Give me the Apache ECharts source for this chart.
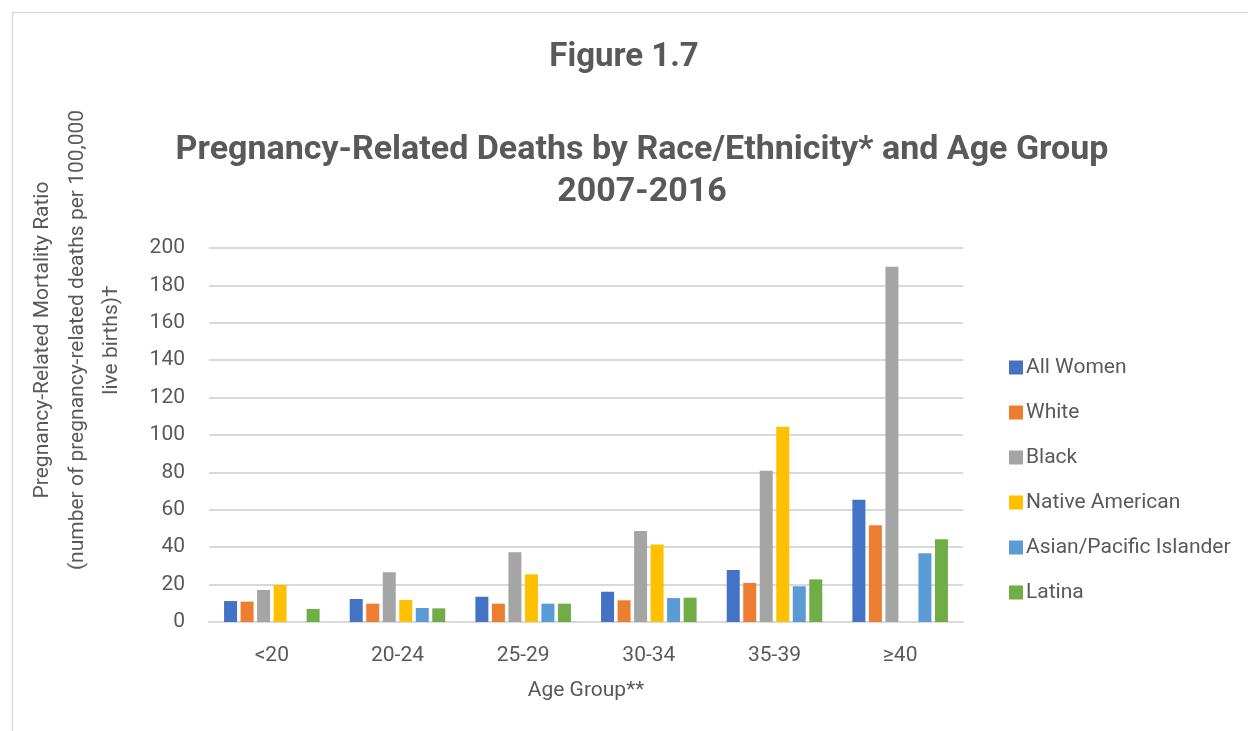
<!DOCTYPE html>
<html>
<head>
<meta charset="utf-8">
<script src="https://cdn.jsdelivr.net/npm/echarts@6/dist/echarts.min.js"></script>
<style>
  html, body { margin: 0; padding: 0; background: #fff; }
  #chart { width: 1248px; height: 731px; }
</style>
</head>
<body>
<div id="chart"></div>
<script>
// Age groups on the x axis
const ageGroups = ['<20', '20-24', '25-29', '30-34', '35-39', '≥40'];

// Pregnancy-related mortality ratio per 100,000 live births, by group
const allWomen        = [11.2, 12.3, 13.5, 16.2, 27.8, 65.4];
const white           = [10.9,  9.8,  9.8, 11.6, 20.9, 51.7];
const black           = [17.1, 26.6, 37.3, 48.7, 80.9, 190.0];
const nativeAmerican  = [19.8, 11.8, 25.5, 41.5, 104.4, null];
const asianPacific    = [null,  7.5,  9.8, 12.8, 19.1, 36.7];
const latina          = [ 7.0,  7.3,  9.8, 13.0, 22.8, 44.2];

const seriesNames = ['All Women', 'White', 'Black', 'Native American', 'Asian/Pacific Islander', 'Latina'];
const seriesData  = [allWomen, white, black, nativeAmerican, asianPacific, latina];
const colors = ['#4472C4', '#ED7D31', '#A5A5A5', '#FFC000', '#5B9BD5', '#70AD47'];

const FONT = 'Roboto, "Liberation Sans", sans-serif';
const TEXT = '#595959';

const chart = echarts.init(document.getElementById('chart'), null, { renderer: 'canvas' });

chart.setOption({
  animation: false,
  backgroundColor: '#ffffff',
  color: colors,
  textStyle: { fontFamily: FONT, color: TEXT },
  graphic: [
    // chart frame
    { type: 'rect', shape: { x: 12.5, y: 12.5, width: 1260, height: 760 },
      style: { fill: 'none', stroke: '#D9D9D9', lineWidth: 1.5 }, silent: true }
  ],
  title: [
    { text: 'Figure 1.7', left: 'center', top: 36,
      textStyle: { fontFamily: FONT, fontSize: 33, fontWeight: 'bold', color: TEXT } },
    { text: 'Pregnancy-Related Deaths by Race/Ethnicity* and Age Group\n2007-2016',
      left: 637, textAlign: 'center', top: 124,
      textStyle: { fontFamily: FONT, fontSize: 34, fontWeight: 'bold', color: TEXT, lineHeight: 42 } }
  ],
  legend: {
    orient: 'vertical', left: 1004, top: 352,
    itemWidth: 14, itemHeight: 14, itemGap: 24,
    icon: 'rect',
    data: seriesNames,
    textStyle: { fontFamily: FONT, fontSize: 21, color: TEXT, padding: [0, 0, 0, -2] }
  },
  grid: { left: 209, right: 285, top: 248, bottom: 109, containLabel: false, outerBoundsMode: 'none' },
  xAxis: {
    type: 'category', data: ageGroups,
    name: 'Age Group**', nameLocation: 'middle', nameGap: 58,
    nameTextStyle: { fontFamily: FONT, fontSize: 21, color: TEXT },
    axisLine: { lineStyle: { color: '#D9D9D9', width: 2 } },
    axisTick: { show: false },
    axisLabel: { fontFamily: FONT, fontSize: 21, color: TEXT, margin: 23 }
  },
  yAxis: {
    type: 'value', min: 0, max: 200, interval: 20,
    name: 'Pregnancy-Related Mortality Ratio\n(number of pregnancy-related deaths per 100,000\nlive births)†',
    nameLocation: 'middle', nameRotate: 90, nameGap: 80,
    nameTextStyle: { fontFamily: FONT, fontSize: 21, color: TEXT, lineHeight: 34.5, align: 'center',
      padding: [0, 0, 0, 190] },
    axisLine: { show: false },
    axisTick: { show: false },
    splitLine: { lineStyle: { color: '#D9D9D9', width: 2 } },
    axisLabel: { fontFamily: FONT, fontSize: 21, color: TEXT, margin: 24 }
  },
  series: seriesNames.map((name, i) => ({
    name: name, type: 'bar', data: seriesData[i],
    barWidth: 13, barGap: '27%'
  }))
});
</script>
</body>
</html>
